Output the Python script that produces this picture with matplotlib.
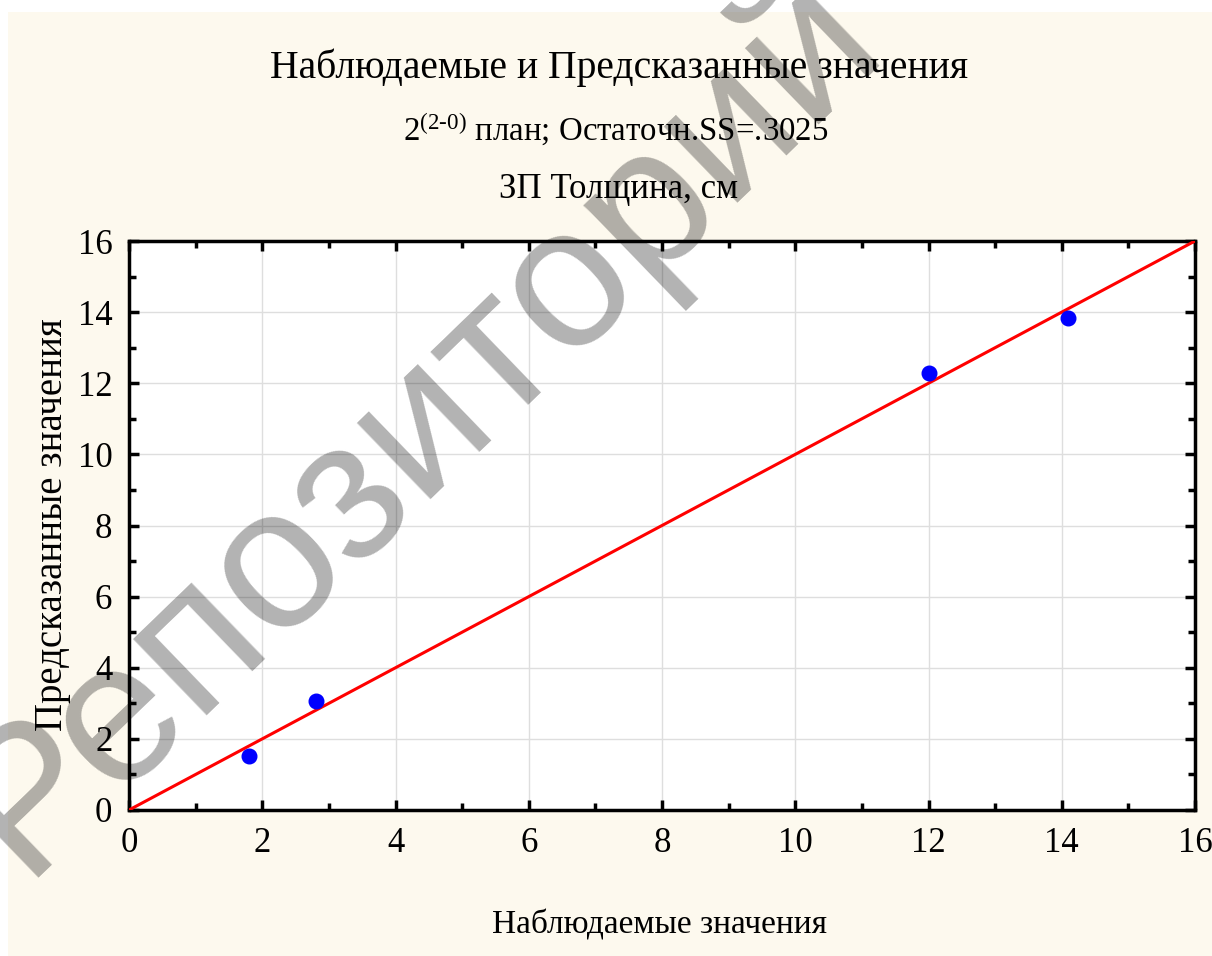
import matplotlib
matplotlib.use("Agg")
import matplotlib.pyplot as plt
from matplotlib.patches import Rectangle
from matplotlib.ticker import MultipleLocator

# data
observed = [1.8, 2.8, 12.0, 14.1]
predicted = [1.525, 3.075, 12.275, 13.825]
line_x = [0, 16]
line_y = [0, 16]
ticks = [0, 2, 4, 6, 8, 10, 12, 14, 16]

title = "Наблюдаемые и Предсказанные значения"
subtitle = r"$2^{\text{(2-0)}}$ план; Остаточн.SS=.3025"
subtitle2 = "ЗП Толщина, см"
xlabel = "Наблюдаемые значения"
ylabel = "Предсказанные значения"
watermark = "Репозиторий"

plt.rcParams['font.family'] = ['Liberation Serif', 'DejaVu Serif']
plt.rcParams['mathtext.fontset'] = 'custom'
plt.rcParams['mathtext.rm'] = 'Liberation Serif'
plt.rcParams['mathtext.it'] = 'Liberation Serif'

W, H = 1212, 956
fig = plt.figure(figsize=(W / 100, H / 100), dpi=100)
fig.patch.set_facecolor('white')
fig.patches.append(Rectangle((8 / W, 0), 1 - 8 / W, 1 - 12 / H, transform=fig.transFigure,
                             facecolor='#fdf9ee', edgecolor='none', zorder=-10))

ax = fig.add_axes([129 / W, (H - 810) / H, (1195 - 129) / W, (810 - 241) / H])
ax.set_facecolor('white')
ax.plot(line_x, line_y, color='#ff0000', lw=2.2, zorder=3)
ax.plot(observed, predicted, 'o', color='#0000ff', ms=10.5, zorder=4)
ax.set_xlim(0, 16)
ax.set_ylim(0, 16)
ax.set_xticks(ticks)
ax.set_yticks(ticks)
ax.xaxis.set_minor_locator(MultipleLocator(1))
ax.yaxis.set_minor_locator(MultipleLocator(1))
ax.grid(True, which='major', color='#dedede', lw=1)
ax.set_axisbelow(True)
for s in ax.spines.values():
    s.set_linewidth(2.5)
    s.set_color('black')
ax.tick_params(which='both', direction='in', top=True, right=True, width=2.5, colors='black')
ax.tick_params(which='major', length=7, labelsize=25)
ax.tick_params(which='minor', length=5)
ax.tick_params(axis='x', which='major', pad=12)
ax.tick_params(axis='y', which='major', pad=12)

fig.text(0.511, 1 - 68 / H, title, ha='center', va='center', fontsize=28.5)
fig.text(0.508, 1 - 130 / H, subtitle, ha='center', va='center', fontsize=23.7)
fig.text(0.51, 1 - 190 / H, subtitle2, ha='center', va='center', fontsize=25)
fig.text(660 / W, 1 - 925 / H, xlabel, ha='center', va='center', fontsize=24)
fig.text(53 / W, 1 - 525 / H, ylabel, ha='center', va='center', fontsize=28, rotation=90)

fig.text(22 / W, 1 - 878 / H, watermark, ha='left', va='baseline', rotation=44,
         rotation_mode='anchor',
         fontsize=145, family=['Liberation Sans', 'DejaVu Sans'], color='black', alpha=0.3,
         zorder=20)

fig.savefig('out.png', dpi=100, facecolor='white')
